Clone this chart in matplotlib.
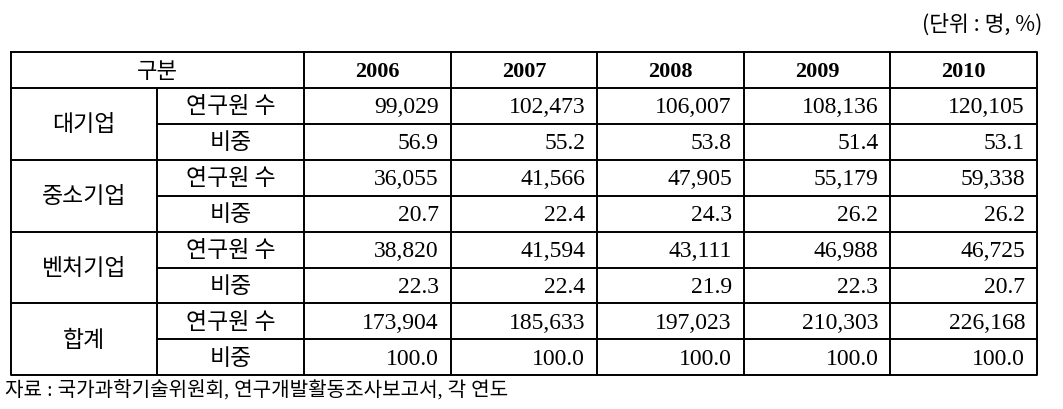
import matplotlib
matplotlib.use('Agg')
import matplotlib.pyplot as plt

plt.rcParams['font.family'] = ['Liberation Serif', 'Noto Sans CJK KR']

years = ['2006', '2007', '2008', '2009', '2010']
groups = ['대기업', '중소기업', '벤처기업', '합계']
sub_labels = ['연구원 수', '비중']
counts = [
    [99029, 102473, 106007, 108136, 120105],
    [36055, 41566, 47905, 55179, 59338],
    [38820, 41594, 43111, 46988, 46725],
    [173904, 185633, 197023, 210303, 226168],
]
shares = [
    [56.9, 55.2, 53.8, 51.4, 53.1],
    [20.7, 22.4, 24.3, 26.2, 26.2],
    [22.3, 22.4, 21.9, 22.3, 20.7],
    [100.0, 100.0, 100.0, 100.0, 100.0],
]
unit_text = '(단위 : 명, %)'
source_text = '자료 : 국가과학기술위원회, 연구개발활동조사보고서, 각 연도'
header_label = '구분'

W, H = 1063, 410
fig = plt.figure(figsize=(W / 100, H / 100), dpi=100)
ax = fig.add_axes([0, 0, 1, 1])
ax.set_xlim(0, W)
ax.set_ylim(H, 0)
ax.axis('off')

# layout in pixels
x0, x1, x2, x_end = 11, 157, 304, 1037
col_w = (x_end - x2) / len(years)
y_top, y_head = 53, 89
row_h = 35.9
n_rows = len(groups) * 2
y_bot = y_head + row_h * n_rows
lw = 1.4
kor = ['Noto Sans CJK KR']
num_font = ['Liberation Serif']

# outer frame and header line
ax.plot([x0, x_end, x_end, x0, x0], [y_top, y_top, y_bot, y_bot, y_top], color='black', lw=lw)
ax.plot([x0, x_end], [y_head, y_head], color='black', lw=lw)
# vertical lines
ax.plot([x1, x1], [y_head, y_bot], color='black', lw=lw)
for j in range(len(years)):
    xv = x2 + j * col_w
    ax.plot([xv, xv], [y_top, y_bot], color='black', lw=lw)
# horizontal lines
for i in range(1, n_rows):
    yv = y_head + i * row_h
    if i % 2 == 0:
        ax.plot([x0, x_end], [yv, yv], color='black', lw=lw)
    else:
        ax.plot([x1, x_end], [yv, yv], color='black', lw=lw)

# header
ax.text((x0 + x2) / 2, (y_top + y_head) / 2, header_label, ha='center', va='center',
        fontsize=16, family=kor)
for j, yr in enumerate(years):
    ax.text(x2 + (j + 0.5) * col_w, (y_top + y_head) / 2 + 1, yr, ha='center', va='center',
            fontsize=16, fontweight='bold', family=num_font)

# body
for g, name in enumerate(groups):
    yg = y_head + g * 2 * row_h
    ax.text((x0 + x1) / 2, yg + row_h, name, ha='center', va='center', fontsize=16.5, family=kor)
    for k, lab in enumerate(sub_labels):
        ax.text((x1 + x2) / 2, yg + (k + 0.5) * row_h, lab, ha='center', va='center',
                fontsize=16.5, family=kor)
    for j in range(len(years)):
        xr = x2 + (j + 1) * col_w - 12
        ax.text(xr, yg + 0.5 * row_h + 1, f'{counts[g][j]:,}', ha='right', va='center',
                fontsize=17, family=num_font)
        ax.text(xr, yg + 1.5 * row_h + 1, f'{shares[g][j]:.1f}', ha='right', va='center',
                fontsize=17, family=num_font)

ax.text(1042, 25, unit_text, ha='right', va='center', fontsize=15.5, family=kor)
ax.text(5, 390, source_text, ha='left', va='center', fontsize=14.5)

fig.savefig('out.png', dpi=100)
